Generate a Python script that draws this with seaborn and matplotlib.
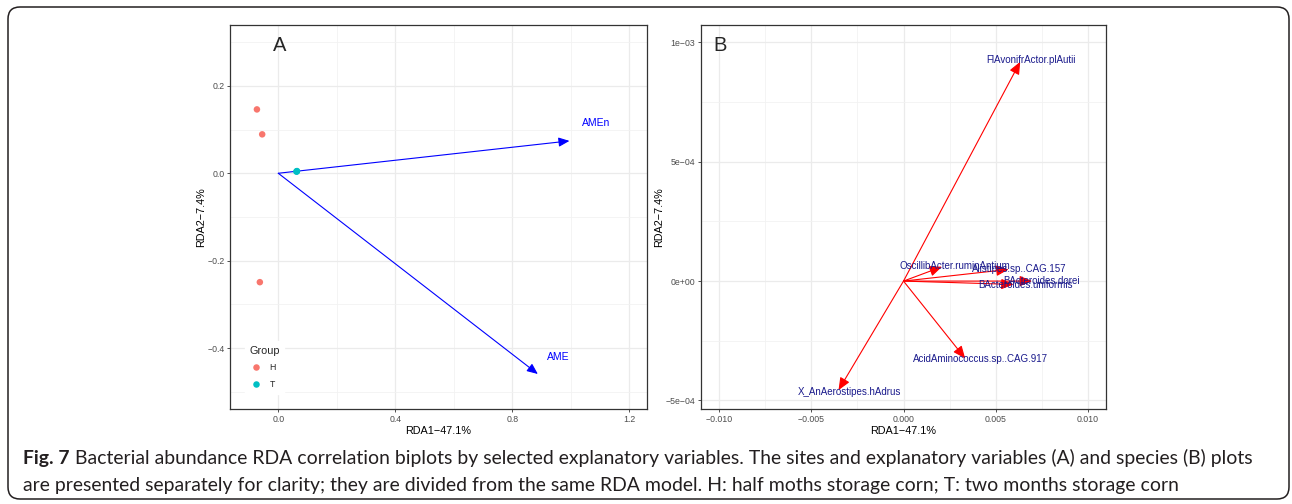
import numpy as np
import pandas as pd
import matplotlib
matplotlib.use("Agg")
import matplotlib.pyplot as plt
import seaborn as sns
from matplotlib.patches import FancyBboxPatch
from matplotlib.transforms import IdentityTransform
from matplotlib.ticker import FixedLocator

# ---- panel A: site scores + explanatory variables
site_group = ["H", "H", "H", "T", "T", "T"]
site_rda1 = [-0.073, -0.055, -0.063, 0.063, 0.064, 0.062]
site_rda2 = [0.146, 0.089, -0.249, 0.004, 0.005, 0.004]

env_names = ["AMEn", "AME"]
env_rda1 = [0.995, 0.887]
env_rda2 = [0.074, -0.459]
env_lab_x = [1.086, 0.957]
env_lab_y = [0.114, -0.420]

# ---- panel B: species scores
sp_names = ["FlAvonifrActor.plAutii", "X_AnAerostipes.hAdrus",
            "AcidAminococcus.sp..CAG.917", "OscillibActer.ruminAntium",
            "Alistipes.sp..CAG.157", "BActeroides.dorei", "BActeroides.uniformis"]
sp_rda1 = [0.00634, -0.00353, 0.00335, 0.00209, 0.00571, 0.00698, 0.00598]
sp_rda2 = [9.19e-4, -4.57e-4, -3.24e-4, 6.0e-5, 4.9e-5, 0.0, -1.4e-5]
sp_lab_x = [0.00692, -0.00295, 0.00417, 0.00281, 0.00630, 0.00748, 0.00661]
sp_lab_y = [9.25e-4, -4.65e-4, -3.27e-4, 6.4e-5, 4.9e-5, 2e-6, -1.7e-5]

a_xticks = [0.0, 0.4, 0.8, 1.2]
a_yticks = [-0.4, -0.2, 0.0, 0.2]
b_xticks = [-0.010, -0.005, 0.0, 0.005, 0.010]
b_xticklabels = ["\u22120.010", "\u22120.005", "0.000", "0.005", "0.010"]
b_yticks = [-5e-4, 0.0, 5e-4, 1e-3]
b_yticklabels = ["\u22125e\u221204", "0e+00", "5e\u221204", "1e\u221203"]

caption_1 = ("Bacterial abundance RDA correlation biplots by selected explanatory variables. "
             "The sites and explanatory variables (A) and species (B) plots")
caption_2 = ("are presented separately for clarity; they are divided from the same RDA model. "
             "H: half moths storage corn; T: two months storage corn")

sns.set_style("white")
plt.rcParams["font.family"] = ["Liberation Sans", "DejaVu Sans"]

W, H = 1292, 504
fig = plt.figure(figsize=(W / 100, H / 100), dpi=100)


def px_axes(x0, y0, x1, y1):
    return fig.add_axes([x0 / W, 1 - y1 / H, (x1 - x0) / W, (y1 - y0) / H])


def style_bw(ax, xminor, yminor):
    ax.set_facecolor("white")
    for s in ax.spines.values():
        s.set_color("#333333")
        s.set_linewidth(0.9)
    ax.xaxis.set_minor_locator(FixedLocator(xminor))
    ax.yaxis.set_minor_locator(FixedLocator(yminor))
    ax.grid(True, which="major", color="#EBEBEB", lw=0.9)
    ax.grid(True, which="minor", color="#F2F2F2", lw=0.6)
    ax.set_axisbelow(True)
    ax.tick_params(which="major", direction="out", length=2.5, width=0.6,
                   color="#333333", labelsize=6.3, labelcolor="#4D4D4D", pad=1.5,
                   bottom=True, left=True)
    ax.tick_params(which="minor", length=0)


def fmt(v):
    s = f"{v:.1f}"
    return s.replace("-", "\u2212")


# ---------------- panel A
axA = px_axes(230, 25, 647, 409)
sites = pd.DataFrame({"RDA1": site_rda1, "RDA2": site_rda2, "Group": site_group})
for name, x, y, lx, ly in zip(env_names, env_rda1, env_rda2, env_lab_x, env_lab_y):
    axA.annotate("", xy=(x, y), xytext=(0, 0),
                 arrowprops=dict(arrowstyle="-|>,head_length=0.65,head_width=0.28",
                                 color="#0000FF", lw=0.8, shrinkA=0, shrinkB=0))
    axA.text(lx, ly, name, color="#0000FF", fontsize=7.5, ha="center", va="center")
sns.scatterplot(data=sites, x="RDA1", y="RDA2", hue="Group",
                palette={"H": "#F8766D", "T": "#00BFC4"}, s=22, linewidth=0,
                ax=axA, zorder=3)
axA.set_xlim(-0.165, 1.26)
axA.set_ylim(-0.539, 0.339)
axA.set_xticks(a_xticks)
axA.set_xticklabels([fmt(v) for v in a_xticks])
axA.set_yticks(a_yticks)
axA.set_yticklabels([fmt(v) for v in a_yticks])
style_bw(axA, [-0.2, 0.2, 0.6, 1.0], [-0.5, -0.3, -0.1, 0.1, 0.3])
axA.set_xlabel("RDA1\u221247.1%", fontsize=7.8, color="black", labelpad=2)
axA.set_ylabel("RDA2\u22127.4%", fontsize=7.8, color="black", labelpad=1)
axA.text(0.103, 0.972, "A", transform=axA.transAxes, fontsize=14.5, ha="left", va="top")
leg = axA.legend(title="Group", loc="lower left", bbox_to_anchor=(0.036, 0.04),
                 frameon=True, fontsize=6.3, title_fontsize=7.8, markerscale=1.0,
                 borderaxespad=0, handletextpad=0.9, labelspacing=0.9,
                 borderpad=0.5, handlelength=1.4)
leg.get_frame().set_edgecolor("white")
leg.get_frame().set_facecolor("white")
leg.get_frame().set_alpha(1)
leg._legend_box.align = "left"

# ---------------- panel B
axB = px_axes(701, 25, 1106, 409)
for x, y in zip(sp_rda1, sp_rda2):
    axB.annotate("", xy=(x, y), xytext=(0, 0),
                 arrowprops=dict(arrowstyle="-|>,head_length=0.75,head_width=0.32",
                                 color="#FF0000", lw=0.8, shrinkA=0, shrinkB=0))
for name, lx, ly in zip(sp_names, sp_lab_x, sp_lab_y):
    axB.text(lx, ly, name, color="#1A1A8C", fontsize=7, ha="center", va="center")
axB.set_xlim(-0.011, 0.011)
axB.set_ylim(-5.36e-4, 1.073e-3)
axB.set_xticks(b_xticks)
axB.set_xticklabels(b_xticklabels)
axB.set_yticks(b_yticks)
axB.set_yticklabels(b_yticklabels)
style_bw(axB, [-0.0075, -0.0025, 0.0025, 0.0075], [-2.5e-4, 2.5e-4, 7.5e-4])
axB.set_xlabel("RDA1\u221247.1%", fontsize=7.8, color="black", labelpad=2)
axB.set_ylabel("RDA2\u22127.4%", fontsize=7.8, color="black", labelpad=1)
axB.text(0.03, 0.972, "B", transform=axB.transAxes, fontsize=14.5, ha="left", va="top")

# ---------------- caption + frame
cap_font = ["Lato", "DejaVu Sans"]
x0, y1, y2 = 23, 464, 491
target_w = 1258 - x0
fs = 11.0
renderer = fig.canvas.get_renderer()
for _ in range(3):
    t_bold = fig.text(x0 / W, 1 - y1 / H, "Fig. 7", fontsize=fs, fontweight="bold",
                      family=cap_font, color="#231F20", va="baseline")
    bb = t_bold.get_window_extent(renderer)
    t_rest = fig.text(bb.x1 / W, 1 - y1 / H, " " + caption_1, fontsize=fs,
                      family=cap_font, color="#231F20", va="baseline")
    bb2 = t_rest.get_window_extent(renderer)
    total = bb2.x1 - x0
    t_bold.remove()
    t_rest.remove()
    fs = fs * target_w / total

t_bold = fig.text(x0 / W, 1 - y1 / H, "Fig. 7", fontsize=fs, fontweight="bold",
                  family=cap_font, color="#231F20", va="baseline")
bb = t_bold.get_window_extent(renderer)
fig.text(bb.x1 / W, 1 - y1 / H, " " + caption_1, fontsize=fs,
         family=cap_font, color="#231F20", va="baseline")
fig.text(x0 / W, 1 - y2 / H, caption_2, fontsize=fs,
         family=cap_font, color="#231F20", va="baseline")

frame = FancyBboxPatch((8, H - 499), 1281, 492,
                       boxstyle="round,pad=0,rounding_size=12",
                       transform=IdentityTransform(), fill=False,
                       edgecolor="#231F20", lw=1.1)
fig.add_artist(frame)

fig.savefig("out.png", dpi=100)
